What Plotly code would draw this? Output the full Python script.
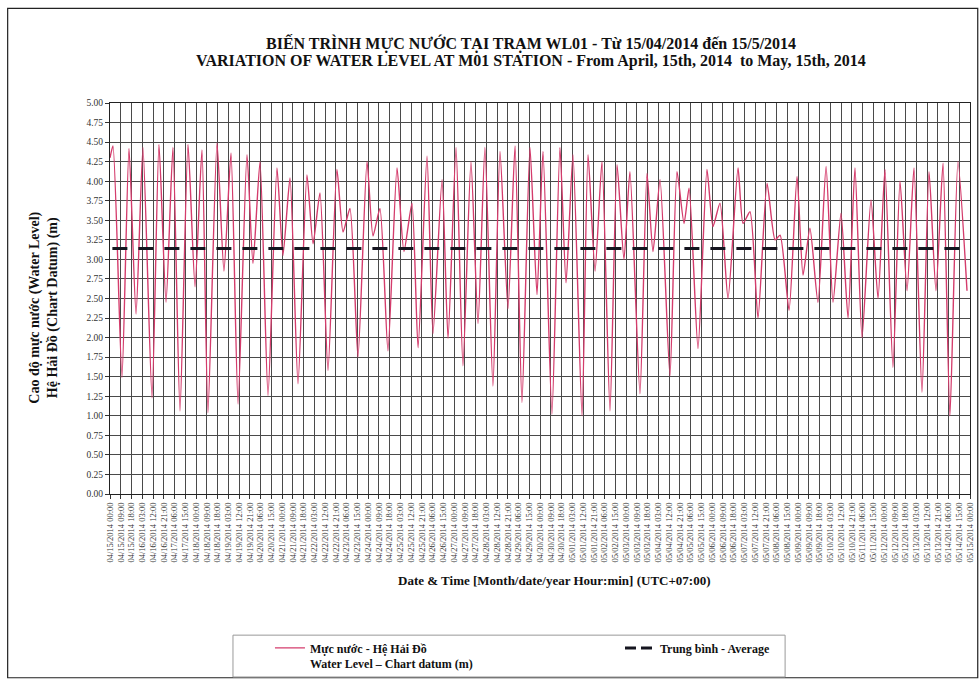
import pandas as pd
import plotly.graph_objects as go

# Tide record at station WL01: successive high / low water turning points
# (hours after 15/04/2014 00:00, level in metres above chart datum)
hours = [
    0.0, 2.5, 10.0, 15.9, 21.8, 27.6, 35.2, 41.0, 46.9, 52.7,
    58.6, 65.3, 71.2, 77.0, 82.0, 89.6, 95.4, 101.3, 107.2, 114.7,
    119.7, 125.6, 132.3, 139.8, 144.8, 150.7, 157.4, 164.9, 170.0, 175.8,
    182.5, 190.0, 195.1, 200.9, 207.6, 215.2, 220.2, 226.0, 232.7, 240.3,
    246.1, 252.8, 257.9, 265.4, 270.4, 278.0, 283.0, 289.7, 295.5, 302.2,
    308.1, 313.9, 320.6, 326.5, 333.2, 339.1, 344.9, 351.6, 357.5, 362.5,
    370.0, 376.7, 381.8, 387.6, 395.2, 400.2, 406.1, 411.9, 418.6, 424.5,
    430.3, 435.3, 443.7, 449.6, 454.6, 460.5, 468.8, 474.7, 480.6, 484.8,
    492.3, 499.8, 504.8, 510.7, 517.4, 525.8, 530.0, 535.8, 542.5, 550.1,
    556.8, 561.0, 568.5, 575.2, 580.2, 586.0, 592.7, 599.5, 605.3, 612.0,
    617.9, 623.7, 629.6, 637.1, 643.0, 648.8, 655.5, 661.4, 667.3, 673.1,
    679.8, 685.7, 691.5, 697.4, 703.2, 709.9, 717.5,
]
levels = [
    4.30, 4.45, 1.49, 4.42, 2.30, 4.43, 1.23, 4.47, 2.45, 4.43,
    1.06, 4.47, 2.65, 4.40, 1.04, 4.49, 2.85, 4.36, 1.15, 4.34,
    2.95, 4.25, 1.26, 4.17, 3.05, 4.04, 1.41, 4.08, 3.20, 3.85,
    1.58, 4.15, 3.35, 3.65, 1.75, 4.25, 3.30, 3.65, 1.83, 4.17,
    3.10, 3.72, 1.87, 4.32, 2.05, 4.02, 1.99, 4.43, 1.64, 4.25,
    2.18, 4.43, 1.38, 4.38, 2.37, 4.45, 1.17, 4.43, 2.55, 4.38,
    1.02, 4.43, 2.70, 4.34, 1.00, 4.34, 2.85, 4.25, 1.06, 4.21,
    3.00, 4.12, 1.28, 4.10, 3.10, 4.02, 1.51, 4.12, 3.46, 3.91,
    1.86, 4.15, 3.42, 3.72, 2.50, 4.17, 3.46, 3.61, 2.25, 3.97,
    3.25, 3.31, 2.35, 4.06, 2.80, 3.40, 2.45, 4.19, 2.45, 3.59,
    2.25, 4.17, 2.00, 3.76, 2.50, 4.15, 1.62, 4.00, 2.60, 4.17,
    1.30, 4.12, 2.60, 4.23, 1.00, 4.25, 2.60,
]
mean_level = 3.14

start = pd.Timestamp("2014-04-15 00:00")
end = start + pd.Timedelta(hours=720)
times = start + pd.to_timedelta(hours, unit="h")

serif = "Liberation Serif, Times New Roman, serif"
avg_name = "<b>Trung bình - Average</b>"

fig = go.Figure()
fig.add_trace(go.Scatter(
    x=times, y=levels, mode="lines", legend="legend",
    name="<b>Mực nước - Hệ Hải Đồ<br>Water Level – Chart datum (m)</b>",
    line=dict(color="#d43c6c", width=1.4, shape="spline", smoothing=0.6),
))
# mean water level across the whole record
fig.add_trace(go.Scatter(
    x=[start + pd.Timedelta(hours=2), end - pd.Timedelta(hours=8)],
    y=[mean_level, mean_level], mode="lines", showlegend=False,
    name=avg_name,
    line=dict(color="#15151f", width=3, dash="15px,11px"),
))
# legend key for the mean line (shorter dashes so two fit in the key)
fig.add_trace(go.Scatter(
    x=[None], y=[None], mode="lines", legend="legend2",
    name=avg_name,
    line=dict(color="#15151f", width=3, dash="11px,5px"),
))

fig.update_xaxes(
    type="date", range=[start, end],
    tick0=start, dtick=9 * 3600 * 1000, tickformat="%m/%d/%Y %H:%M",
    tickangle=-90, tickfont=dict(family=serif, size=8.5, color="#333"),
    showgrid=True, gridcolor="#4a4a4a", gridwidth=1,
    ticks="outside", ticklen=4, tickcolor="#333",
    showline=True, linecolor="#222", linewidth=1, mirror=True,
)
fig.update_yaxes(
    range=[0, 5], dtick=0.25, tick0=0, tickformat=".2f",
    tickfont=dict(family=serif, size=9.5, color="#333"),
    showgrid=True, gridcolor="#4a4a4a", gridwidth=1,
    ticks="outside", ticklen=4, tickcolor="#333",
    showline=True, linecolor="#222", linewidth=1, mirror=True,
    zeroline=False,
)

annotations = [
    dict(text="<b>BIẾN TRÌNH MỰC NƯỚC TẠI TRẠM WL01 - Từ 15/04/2014 đến 15/5/2014</b>",
         x=0.49, y=1.151, xref="paper", yref="paper", showarrow=False,
         xanchor="center", yanchor="middle",
         font=dict(family=serif, size=16, color="#111")),
    dict(text="<b>VARIATION OF WATER LEVEL AT M01 STATION - From April, 15th, 2014  to May, 15th, 2014</b>",
         x=0.49, y=1.107, xref="paper", yref="paper", showarrow=False,
         xanchor="center", yanchor="middle",
         font=dict(family=serif, size=16, color="#111")),
    dict(text="<b>Cao độ mực nước (Water Level)<br>Hệ Hải Đồ (Chart Datum) (m)</b>",
         x=-0.077, y=0.476, xref="paper", yref="paper", showarrow=False, textangle=-90,
         xanchor="center", yanchor="middle",
         font=dict(family=serif, size=14, color="#111")),
    dict(text="<b>Date & Time [Month/date/year Hour:min] (UTC+07:00)</b>",
         x=0.517, y=-0.22, xref="paper", yref="paper", showarrow=False,
         xanchor="center", yanchor="middle",
         font=dict(family=serif, size=13, color="#111")),
]

legend_font = dict(family=serif, size=12, color="#111")

fig.update_layout(
    width=980, height=679,
    margin=dict(l=110, r=10, t=103, b=185, autoexpand=False),
    paper_bgcolor="white", plot_bgcolor="white",
    showlegend=True,
    legend=dict(
        orientation="h", x=0.186, y=-0.357, xanchor="left", yanchor="top",
        borderwidth=0, bgcolor="rgba(0,0,0,0)", font=legend_font, valign="top",
    ),
    legend2=dict(
        orientation="h", x=0.593, y=-0.357, xanchor="left", yanchor="top",
        borderwidth=0, bgcolor="rgba(0,0,0,0)", font=legend_font, valign="top",
    ),
    annotations=annotations,
    shapes=[
        dict(type="rect", xref="paper", yref="paper",
             x0=-0.119, x1=1.009, y0=-0.47, y1=1.242,
             line=dict(color="#222", width=1.2), layer="below"),
        dict(type="rect", xref="paper", yref="paper",
             x0=0.143, x1=0.785, y0=-0.468, y1=-0.361,
             line=dict(color="#999", width=1), layer="below"),
    ],
)

fig.write_html("out.html")
